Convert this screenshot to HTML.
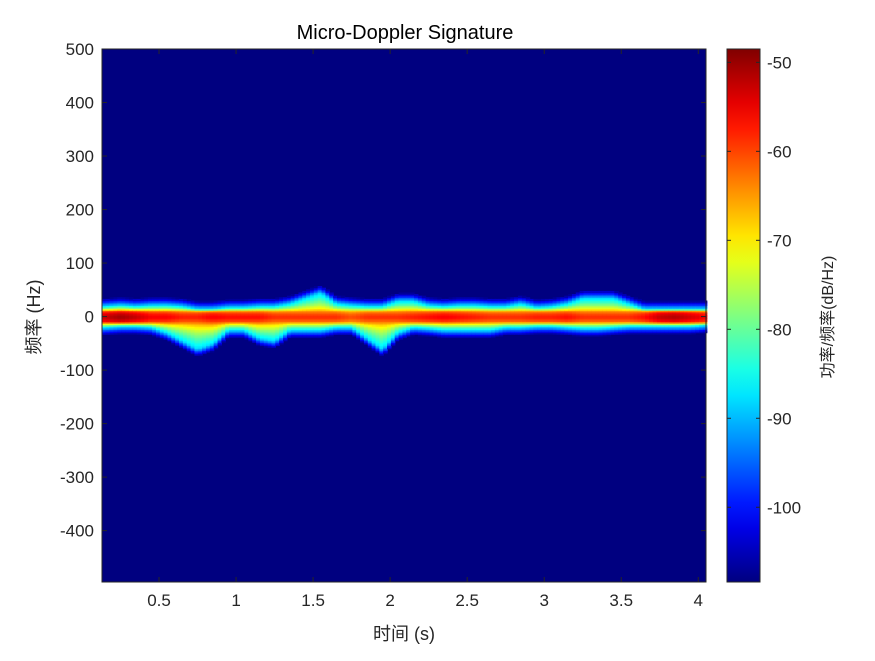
<!DOCTYPE html>
<html><head><meta charset="utf-8"><style>
body{margin:0;background:#fff;}
svg text{font-family:"Liberation Sans","Noto Sans CJK SC",sans-serif;}
</style></head><body>
<svg id="chart" width="875" height="656" xmlns="http://www.w3.org/2000/svg">
<rect width="875" height="656" fill="#fff"/>
<text x="405" y="39" font-size="20" text-anchor="middle" fill="#000">Micro-Doppler Signature</text>
<g id="plot"></g>
<g id="axes"></g>
<g id="cbar"></g>
</svg>
<script>
const times=[0.15,0.25,0.35,0.45,0.55,0.65,0.75,0.85,0.95,1.05,1.15,1.25,1.35,1.45,1.55,1.65,1.75,1.85,1.95,2.05,2.15,2.25,2.35,2.45,2.55,2.65,2.75,2.85,2.95,3.05,3.15,3.25,3.35,3.45,3.55,3.65,3.75,3.85,3.95,4.05];
const bandTop=[20,22,20,22,22,20,15,15,18,18,20,20,25,35,45,25,22,20,20,30,30,22,20,22,22,20,20,25,18,20,25,35,35,35,25,15,15,15,15,15];
const bandBottom=[-20,-18,-18,-20,-30,-45,-60,-50,-25,-25,-40,-45,-25,-25,-25,-20,-20,-40,-60,-30,-20,-22,-25,-25,-25,-25,-20,-20,-18,-18,-20,-22,-22,-20,-18,-18,-18,-18,-18,-16];
const peakDb=[-52,-50,-52,-55,-55,-57,-57,-55,-56,-56,-56,-58,-58,-58,-58,-58,-60,-58,-58,-58,-57,-56,-55,-56,-57,-58,-58,-58,-57,-57,-56,-58,-58,-58,-58,-56,-52,-51,-53,-55];
const xTicks=[0.5,1,1.5,2,2.5,3,3.5,4];
const yTicks=[500,400,300,200,100,0,-100,-200,-300,-400];
const cTicks=[-50,-60,-70,-80,-90,-100];

const NS="http://www.w3.org/2000/svg";
const L=102,R=706,T=49,B=582;
const tMin=0.13,tMax=4.05,fMin=-496,fMax=500,cMin=-108.4,cMax=-48.5;
const xs=t=>L+(t-tMin)/(tMax-tMin)*(R-L);
const ys=f=>T+(fMax-f)/(fMax-fMin)*(B-T);
const cs=d=>B-(d-cMin)/(cMax-cMin)*(B-T);
function mk(tag,attrs,parent){const e=document.createElementNS(NS,tag);for(const k in attrs)e.setAttribute(k,attrs[k]);parent.appendChild(e);return e;}
function jet(v){v=Math.max(0,Math.min(1,v));const r=Math.max(0,Math.min(1,1.5-Math.abs(4*v-3))),g=Math.max(0,Math.min(1,1.5-Math.abs(4*v-2))),b=Math.max(0,Math.min(1,1.5-Math.abs(4*v-1)));return `rgb(${Math.round(r*255)},${Math.round(g*255)},${Math.round(b*255)})`;}
const plot=document.getElementById('plot');
const bg=mk('rect',{x:L,y:T,width:R-L,height:B-T,fill:jet(0)},plot);


function lerp(arr,t){if(t<=times[0])return arr[0];for(let i=0;i<times.length-1;i++){if(t<=times[i+1]){const a=(t-times[i])/(times[i+1]-times[i]);return arr[i]*(1-a)+arr[i+1]*a;}}return arr[arr.length-1];}
function power(f,top,bot,pk){const a=Math.abs(f);const core=10;if(a<=core)return pk-a*0.5;const edge=f>0?top:-bot;if(a<=edge){const u=Math.pow((a-core)/(edge-core),0.7);return (pk-5)+u*(-88-(pk-5));}return -88-(a-edge)*1.4;}
const dt=0.025,df=3;
for(let t=tMin;t<tMax;t+=dt){const tc=t+dt/2;const top=lerp(bandTop,tc),bot=lerp(bandBottom,tc),pk=lerp(peakDb,tc);
 for(let f=-90;f<75;f+=df){const d=power(f+df/2,top,bot,pk);if(d<=cMin+1)continue;
  const c=mk('rect',{x:xs(t).toFixed(2),y:ys(f+df).toFixed(2),width:(xs(t+dt)-xs(t)+0.6).toFixed(2),height:(ys(f)-ys(f+df)+0.6).toFixed(2),fill:jet((d-cMin)/(cMax-cMin))},plot);
  
  }}
const axes=document.getElementById('axes');
const fr=mk('rect',{x:L,y:T,width:R-L,height:B-T,fill:'none',stroke:'#262626','stroke-width':1},axes);


xTicks.forEach(v=>{const x=xs(v);mk('line',{x1:x,x2:x,y1:B,y2:B-5,stroke:'#262626'},axes);mk('line',{x1:x,x2:x,y1:T,y2:T+5,stroke:'#262626'},axes);
 const tx=mk('text',{x:x,y:B+24,'font-size':17,'text-anchor':'middle',fill:'#262626'},axes);tx.textContent=v;
 
 });
yTicks.forEach(v=>{const y=ys(v);mk('line',{x1:L,x2:L+5,y1:y,y2:y,stroke:'#262626'},axes);mk('line',{x1:R,x2:R-5,y1:y,y2:y,stroke:'#262626'},axes);
 const tx=mk('text',{x:L-8,y:y+6,'font-size':17,'text-anchor':'end',fill:'#262626'},axes);tx.textContent=v;
 
 });
const xl=mk('text',{x:404,y:640,'font-size':18,'text-anchor':'middle',fill:'#262626'},axes);xl.textContent='时间 (s)';


const yl=mk('text',{x:40,y:317,'font-size':18,'text-anchor':'middle',fill:'#262626',transform:'rotate(-90 40 317)'},axes);yl.textContent='频率 (Hz)';


const cb=document.getElementById('cbar');
const CL=727,CR=760;
const defs=mk('defs',{},cb);const gr=mk('linearGradient',{id:'jetg',x1:0,y1:1,x2:0,y2:0},defs);
for(let i=0;i<=20;i++)mk('stop',{offset:i/20,'stop-color':jet(i/20)},gr);
const cr=mk('rect',{x:CL,y:T,width:CR-CL,height:B-T,fill:'url(#jetg)',stroke:'#262626','stroke-width':1},cb);


cTicks.forEach(v=>{const y=cs(v);mk('line',{x1:CR,x2:CR-4,y1:y,y2:y,stroke:'#262626'},cb);mk('line',{x1:CL,x2:CL+4,y1:y,y2:y,stroke:'#262626'},cb);
 const tx=mk('text',{x:767,y:y+6,'font-size':17,fill:'#262626'},cb);tx.textContent=v;
 
 });
const cl=mk('text',{x:833,y:317,'font-size':16,'text-anchor':'middle',fill:'#262626',transform:'rotate(-90 833 317)'},cb);cl.textContent='功率/频率(dB/Hz)';


</script>
</body></html>
